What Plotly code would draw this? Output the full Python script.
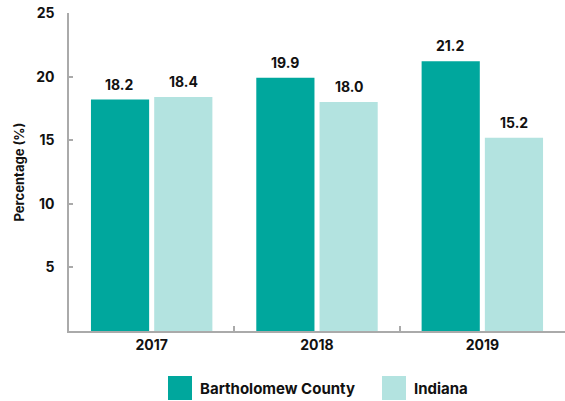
import plotly.graph_objects as go

years = ["2017", "2018", "2019"]
bartholomew = [18.2, 19.9, 21.2]
indiana = [18.4, 18.0, 15.2]
series_names = ["Bartholomew County", "Indiana"]
y_ticks = [5, 10, 15, 20, 25]

C1 = "#00a79d"
C2 = "#b3e3e0"
FONT = "Inter"
TXT = "#111111"

L, R, T, B = 69, 0, 13, 70
W, H = 565, 401
PW, PH = W - L - R, H - T - B

fig = go.Figure()
for name, vals, col in [(series_names[0], bartholomew, C1), (series_names[1], indiana, C2)]:
    fig.add_trace(go.Bar(
        x=years, y=vals, name=name, marker=dict(color=col, line=dict(width=0)),
        showlegend=False, hoverinfo="skip",
    ))

# value labels above bars (x given as category index)
for vals, shift in [(bartholomew, -32), (indiana, 32)]:
    for i, v in enumerate(vals):
        fig.add_annotation(x=i, y=v, text=f"{v:.1f}", showarrow=False,
                           xshift=shift, yshift=5, yanchor="bottom",
                           font=dict(family=FONT, size=14, color=TXT, weight="bold"))

fig.update_layout(
    width=W, height=H,
    margin=dict(l=L, r=R, t=T, b=B, autoexpand=False),
    paper_bgcolor="white", plot_bgcolor="white",
    barmode="group", bargap=0.235, bargroupgap=0.08,
    font=dict(family=FONT, color=TXT),
    xaxis=dict(
        type="category", automargin=False, range=[-0.5, len(years) - 0.5],
        showline=True, linecolor="#aaaaaa", linewidth=1.5,
        ticks="inside", tickson="boundaries", ticklen=5, tickcolor="#aaaaaa", tickwidth=1.5,
        tickfont=dict(family=FONT, size=14, color=TXT, weight="bold"),
        showgrid=False,
    ),
    yaxis=dict(
        automargin=False,
        range=[0, 25], tickvals=y_ticks, showgrid=False, zeroline=False,
        showline=True, linecolor="#aaaaaa", linewidth=1.5,
        ticks="inside", ticklen=4, tickcolor="#aaaaaa", tickwidth=1.5,
        tickfont=dict(family=FONT, size=14, color=TXT, weight="bold"),
        ticklabelstandoff=10,
        title=dict(text="Percentage (%)", font=dict(family=FONT, size=13, color=TXT, weight="bold"), standoff=9),
    ),
)

# legend drawn in paper space
def px(x):
    return (x - L) / PW

def py(y):
    return (H - B - y) / PH

legend_items = [(series_names[0], C1, 168), (series_names[1], C2, 382)]
for name, col, x0 in legend_items:
    fig.add_shape(type="rect", xref="paper", yref="paper",
                  x0=px(x0), x1=px(x0 + 24), y0=py(400), y1=py(376),
                  fillcolor=col, line=dict(width=0))
    fig.add_annotation(xref="paper", yref="paper", x=px(x0 + 30), y=py(388),
                       text=name, showarrow=False, xanchor="left", yanchor="middle",
                       font=dict(family=FONT, size=15, color=TXT, weight="bold"))

fig.write_html("out.html", config={"displayModeBar": False},
               post_script="document.body.style.margin='0';")
